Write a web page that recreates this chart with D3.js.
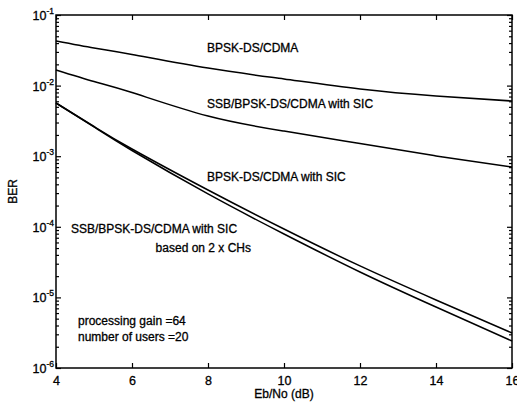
<!DOCTYPE html>
<html>
<head>
<meta charset="utf-8">
<script src="https://cdn.jsdelivr.net/npm/d3@7"></script>
<style>
  body { margin: 0; background: #fff; }
  svg { display: block; font-family: "Liberation Sans", Arial, sans-serif; }
  text { stroke: #000; stroke-width: 0.3px; fill: #000; }
</style>
</head>
<body>
<svg id="chart"></svg>
<script>
// 画布大小
var width = 517;
var height = 407;
var pad = { top: 15, right: 5, bottom: 39, left: 56 };

// 数据
var ebno = [4, 5, 6, 8, 10, 12, 14, 16];
var berBpsk = [0.0429, 0.0341, 0.0276, 0.0177, 0.0124, 0.00895, 0.00713, 0.00605];
var berSsbSic = [0.01663, 0.01143, 0.00798, 0.00371, 0.00227, 0.00151, 0.00101, 0.000703];
var berBpskSic = [0.00567, 0.002635, 0.001265, 0.000332, 0.000093, 0.0000279, 0.0000092, 0.00000313];
var berSsb2ch = [0.00567, 0.002593, 0.001204, 0.000292, 0.0000791, 0.0000229, 0.0000073, 0.00000241];
var xTicks = [4, 6, 8, 10, 12, 14, 16];
var yTicks = [1e-1, 1e-2, 1e-3, 1e-4, 1e-5, 1e-6];
var yExp = ["-1", "-2", "-3", "-4", "-5", "-6"];

var svg = d3.select("#chart")
  .attr("width", width)
  .attr("height", height);

var xScale = d3.scaleLinear().domain([4, 16]).range([pad.left, width - pad.right]);
var yScale = d3.scaleLog().domain([1e-6, 1e-1]).range([height - pad.bottom, pad.top]);

// 小刻度 2..9
var minor = [];
for (var e = -6; e < -1; e++) {
  for (var m = 2; m <= 9; m++) minor.push(m * Math.pow(10, e));
}

var x0 = pad.left, x1 = width - pad.right;
var y0 = height - pad.bottom, y1 = pad.top;

// 曲线
var line = d3.line()
  .x(function(d) { return xScale(d[0]); })
  .y(function(d) { return yScale(d[1]); })
  .curve(d3.curveNatural);

[berBpsk, berSsbSic, berBpskSic, berSsb2ch].forEach(function(s) {
  svg.append("path")
    .datum(ebno.map(function(v, i) { return [v, s[i]]; }))
    .attr("d", line)
    .attr("fill", "none")
    .attr("stroke", "#000")
    .attr("stroke-width", 1.5);
});

// 坐标轴
function styleAxis(g) {
  g.select(".domain").remove();
  g.selectAll("line").attr("stroke", "#000").attr("stroke-width", 1.2);
}

svg.append("g")
  .attr("transform", "translate(0," + y0 + ")")
  .call(d3.axisBottom(xScale).tickValues(xTicks).tickSize(-5).tickPadding(8))
  .call(styleAxis)
  .selectAll("text")
  .attr("font-size", 12.5)
  .attr("fill", "#000");

svg.append("g")
  .attr("transform", "translate(0," + y1 + ")")
  .call(d3.axisTop(xScale).tickValues(xTicks).tickSize(-5).tickFormat(""))
  .call(styleAxis);

svg.append("g")
  .attr("transform", "translate(" + x0 + ",0)")
  .call(d3.axisLeft(yScale).tickValues(yTicks).tickSize(-5).tickFormat(""))
  .call(styleAxis);
svg.append("g")
  .attr("transform", "translate(" + x0 + ",0)")
  .call(d3.axisLeft(yScale).tickValues(minor).tickSize(-3).tickFormat(""))
  .call(styleAxis);
svg.append("g")
  .attr("transform", "translate(" + x1 + ",0)")
  .call(d3.axisRight(yScale).tickValues(yTicks).tickSize(-5).tickFormat(""))
  .call(styleAxis);
svg.append("g")
  .attr("transform", "translate(" + x1 + ",0)")
  .call(d3.axisRight(yScale).tickValues(minor).tickSize(-3).tickFormat(""))
  .call(styleAxis);

// 边框
svg.append("rect")
  .attr("x", x0).attr("y", y1)
  .attr("width", x1 - x0).attr("height", y0 - y1)
  .attr("fill", "none")
  .attr("stroke", "#000")
  .attr("stroke-width", 1.5);

// y 刻度文字 10^n
var yl = svg.append("g").selectAll("text")
  .data(yTicks)
  .enter()
  .append("text")
  .attr("x", x0 - 2)
  .attr("y", function(d) { return yScale(d) + 5; })
  .attr("text-anchor", "end")
  .attr("font-size", 12.5);
yl.append("tspan").text("10");
yl.append("tspan")
  .attr("dy", -6)
  .attr("font-size", 8.5)
  .text(function(d, i) { return yExp[i]; });

// 轴标题
svg.append("text")
  .attr("x", (x0 + x1) / 2)
  .attr("y", 398)
  .attr("text-anchor", "middle")
  .attr("font-size", 12)
  .text("Eb/No (dB)");

svg.append("text")
  .attr("transform", "translate(17," + ((y0 + y1) / 2) + ") rotate(-90)")
  .attr("text-anchor", "middle")
  .attr("font-size", 12)
  .text("BER");

// 曲线标注
var notes = [
  { t: "BPSK-DS/CDMA", x: 207, y: 48, a: "start" },
  { t: "SSB/BPSK-DS/CDMA with SIC", x: 207, y: 104, a: "start" },
  { t: "BPSK-DS/CDMA with SIC", x: 207, y: 177, a: "start" },
  { t: "SSB/BPSK-DS/CDMA with SIC", x: 71, y: 229, a: "start" },
  { t: "based on 2 x CHs", x: 251, y: 248, a: "end" },
  { t: "processing gain =64", x: 78, y: 321, a: "start" },
  { t: "number of users =20", x: 78, y: 337, a: "start" }
];
svg.append("g").selectAll("text")
  .data(notes)
  .enter()
  .append("text")
  .attr("x", function(d) { return d.x; })
  .attr("y", function(d) { return d.y + 4; })
  .attr("text-anchor", function(d) { return d.a; })
  .attr("font-size", 12)
  .text(function(d) { return d.t; });
</script>
</body>
</html>
